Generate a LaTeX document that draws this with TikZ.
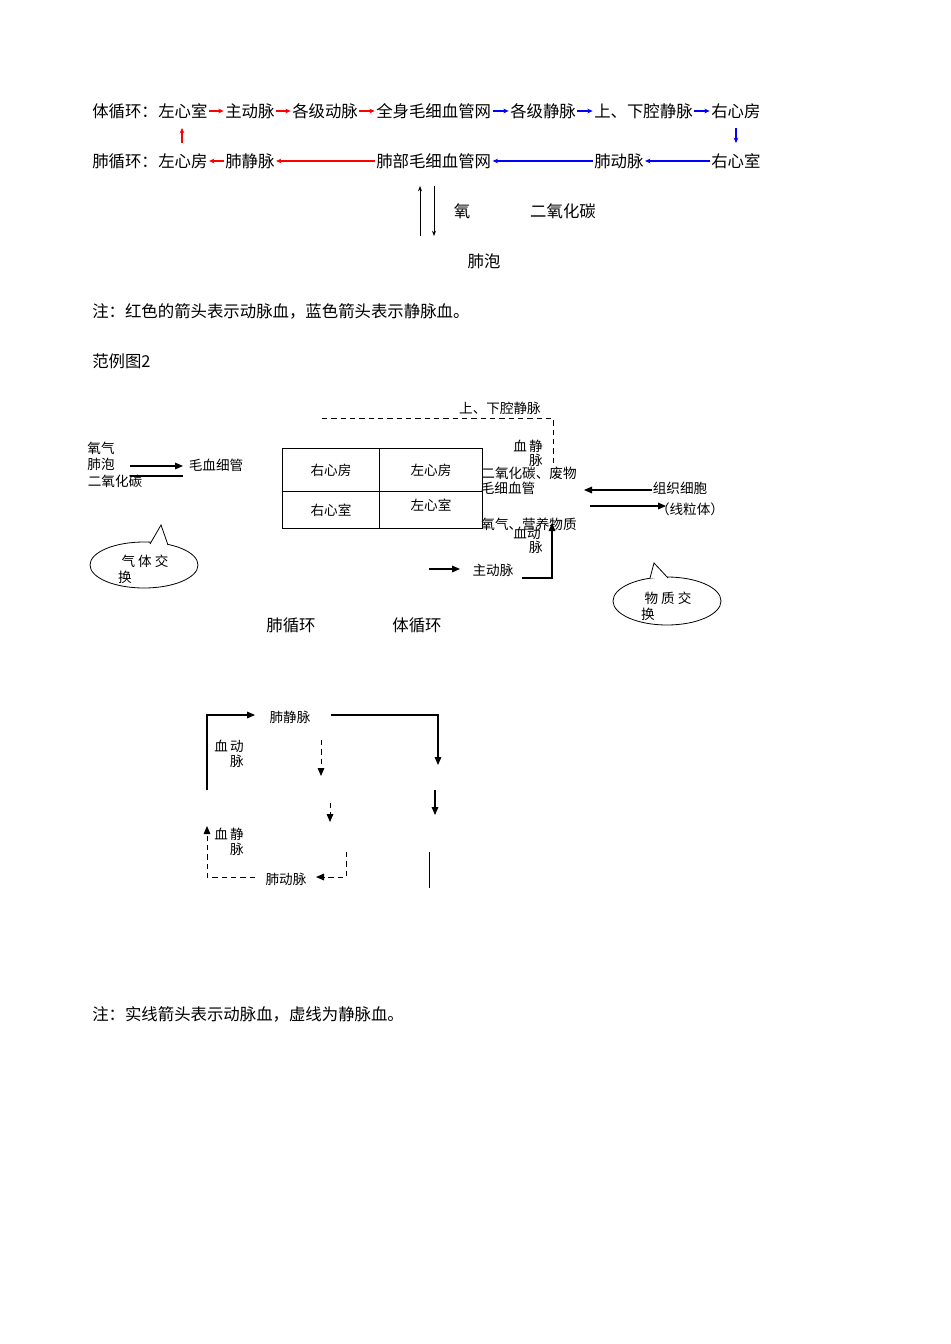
\documentclass[tikz,border=0pt]{standalone}
\usepackage{fontspec}
\setmainfont{Noto Sans CJK SC}
\usetikzlibrary{arrows.meta}
\begin{document}
\begin{tikzpicture}[x=0.75pt,y=-0.75pt,
 big/.style={font=\fontsize{12.3}{13}\selectfont,inner sep=0pt},
 sm/.style={font=\fontsize{10.2}{11}\selectfont,inner sep=0pt},
 ra/.style={draw=red,-{Stealth[length=4pt,width=3.5pt]},line width=0.8pt},
 ba/.style={draw=blue,-{Stealth[length=4pt,width=3.5pt]},line width=0.8pt},
 ka/.style={-{Triangle[length=6pt,width=5pt]},line width=0.8pt},
 ta/.style={-{Stealth[length=4pt,width=3pt]},line width=0.5pt},
 dsh/.style={dash pattern=on 4pt off 3pt,line width=0.7pt}]
\useasboundingbox (0,0) rectangle (950,1344);
% row 1
\node[big,anchor=west] (t1) at (92,111) {体循环：};
\node[big,anchor=west] (a1) at (158,111) {左心室};
\node[big,anchor=west] (a2) at (225,111) {主动脉};
\node[big,anchor=west] (a3) at (292,111) {各级动脉};
\node[big,anchor=west] (a4) at (376,111) {全身毛细血管网};
\node[big,anchor=west] (a5) at (510,111) {各级静脉};
\node[big,anchor=west] (a6) at (594,111) {上、下腔静脉};
\node[big,anchor=west] (a7) at (711,111) {右心房};
\draw[ra] ([xshift=1pt]a1.east) -- ([xshift=-1pt]a2.west);
\draw[ra] ([xshift=1pt]a2.east) -- ([xshift=-1pt]a3.west);
\draw[ra] ([xshift=1pt]a3.east) -- ([xshift=-1pt]a4.west);
\draw[ba] ([xshift=1pt]a4.east) -- ([xshift=-1pt]a5.west);
\draw[ba] ([xshift=1pt]a5.east) -- ([xshift=-1pt]a6.west);
\draw[ba] ([xshift=1pt]a6.east) -- ([xshift=-1pt]a7.west);
% row 2
\node[big,anchor=west] (t2) at (92,161) {肺循环：};
\node[big,anchor=west] (b1) at (158,161) {左心房};
\node[big,anchor=west] (b2) at (225,161) {肺静脉};
\node[big,anchor=west] (b3) at (376,161) {肺部毛细血管网};
\node[big,anchor=west] (b4) at (594,161) {肺动脉};
\node[big,anchor=west] (b5) at (711,161) {右心室};
\draw[ra] ([xshift=-1pt]b2.west) -- ([xshift=1pt]b1.east);
\draw[ra] ([xshift=-1pt]b3.west) -- ([xshift=1pt]b2.east);
\draw[ba] ([xshift=-1pt]b4.west) -- ([xshift=1pt]b3.east);
\draw[ba] ([xshift=-1pt]b5.west) -- ([xshift=1pt]b4.east);
\draw[ra] (182,143) -- (182,128);
\draw[ba] (736,128) -- (736,143);
\draw[ta] (420,236) -- (420,186);
\draw[ta] (434,186) -- (434,236);
\node[big] (o2) at (462,211) {氧};
\node[big] (co2) at (563,211) {二氧化碳};
\node[big] (fp) at (484,261) {肺泡};
\node[big,anchor=west] (n1) at (92,311) {注：红色的箭头表示动脉血，蓝色箭头表示静脉血。};
\node[big,anchor=west] (n2) at (92,361) {范例图2};
% diagram 2
\node[sm] (sx) at (500,408) {上、下腔静脉};
\coordinate (d1) at (322,418); \coordinate (d2) at (553,418); \coordinate (d3) at (553,465);
\draw[dsh,line width=0.6pt] (d1) -- (d2) -- (d3);
\draw[line width=0.6pt] (282,448) rectangle (482,528);
\draw[line width=0.6pt] (379,448) -- (379,528) (282,491) -- (482,491);
\node[sm] (h1) at (331,470) {右心房};
\node[sm] (h2) at (431,470) {左心房};
\node[sm] (h3) at (331,510) {右心室};
\node[sm] (h4) at (431,505) {左心室};
\node[sm] (j1) at (528,446) {血\,静};
\node[sm] (j2) at (536,460) {脉};
\node[sm] (w1) at (529,473) {二氧化碳、废物};
\node[sm] (w2) at (508,488) {毛细血管};
\node[sm] (y1) at (529,524) {氧气、营养物质};
\node[sm] (k1) at (527,533) {血动};
\node[sm] (k2) at (536,547) {脉};
\coordinate (z1) at (522,578); \coordinate (z2) at (552,578); \coordinate (z3) at (552,523);
\draw[ka] (z1) -- (z2) -- (z3);
\node[sm] (zd) at (493,570) {主动脉};
\draw[ka] (429,569) -- (460,569);
\node[sm] (zz) at (680,488) {组织细胞};
\node[sm] (xl) at (690,509) {（线粒体）};
\draw[ka] (652,490) -- (584,490);
\draw[ka] (590,506) -- (666,506);
\node[sm] (l1) at (101,448) {氧气};
\node[sm] (l2) at (101,464) {肺泡};
\node[sm] (l3) at (115,481) {二氧化碳};
\node[sm] (l4) at (216,465) {毛血细管};
\draw[ka] (130,466) -- (183,466);
\draw[line width=0.8pt] (183,476) -- (130,476);
% callouts
\draw[line width=0.6pt] (144,565) ellipse [x radius=54,y radius=23];
\fill[white] (150,544.5) -- (161,525) -- (168,545.5) -- cycle;
\draw[line width=0.6pt] (150,544) -- (161,525) -- (168,545);
\node[sm] (q1) at (145,561) {气\ 体\ 交};
\node[sm] (q2) at (125,577) {换};
\draw[line width=0.6pt] (667,601) ellipse [x radius=54,y radius=24];
\fill[white] (650,578) -- (654,563) -- (668,578) -- cycle;
\draw[line width=0.6pt] (650,578) -- (654,563) -- (668,578);
\node[sm] (r1) at (668,598) {物\ 质\ 交};
\node[sm] (r2) at (648,614) {换};
\node[big] (fx) at (291,625) {肺循环};
\node[big] (tx) at (417,625) {体循环};
% diagram 3
\node[sm] (p1) at (290,717) {肺静脉};
\coordinate (e1) at (207,790); \coordinate (e2) at (207,715);
\draw[ka] (e1) -- (e2) -- (255,715);
\draw[ka] (331,715) -- (438,715) -- (438,765);
\draw[ka] (435,790) -- (435,815);
\draw[line width=0.6pt] (429,852) -- (429,888);
\node[sm] (m1) at (229,746) {血\,动};
\node[sm] (m2) at (237,761) {脉};
\draw[ka,dsh] (321,740) -- (321,776);
\draw[ka,dsh] (330,803) -- (330,822);
\node[sm] (m3) at (229,834) {血\,静};
\node[sm] (m4) at (237,849) {脉};
\node[sm] (p2) at (286,879) {肺动脉};
\draw[ka,dsh] (255,877) -- (207,877) -- (207,826);
\draw[ka,dsh] (346,852) -- (346,877) -- (316,877);
\node[big,anchor=west] (n3) at (92,1014) {注：实线箭头表示动脉血，虚线为静脉血。};
\end{tikzpicture}
\end{document}
